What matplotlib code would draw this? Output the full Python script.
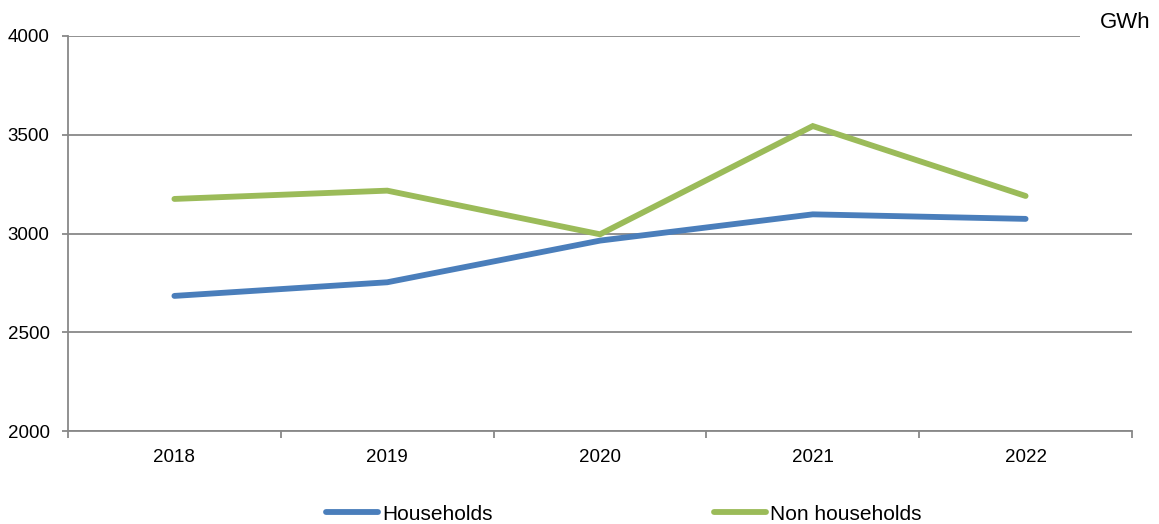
import numpy as np
import matplotlib.pyplot as plt
from matplotlib.ticker import FixedLocator

# electricity consumption, GWh
years = ["2018", "2019", "2020", "2021", "2022"]
households = [2684, 2753, 2964, 3097, 3074]
non_households = [3175, 3217, 2996, 3544, 3190]

blue = "#4A7EBB"
green = "#9BBB59"
grey = "#888888"
font = ["Liberation Sans", "DejaVu Sans"]

fig = plt.figure(figsize=(11.59, 5.24), dpi=100)
ax = fig.add_axes([68/1159, 1-431/524, (1132-68)/1159, (431-36)/524])

x = np.arange(len(years))
ax.plot(x, households, color=blue, lw=4.2, solid_capstyle="round", solid_joinstyle="miter", label="Households", zorder=3)
ax.plot(x, non_households, color=green, lw=4.2, solid_capstyle="round", solid_joinstyle="miter", label="Non households", zorder=3)

ax.set_xlim(-0.5, len(years) - 0.5)
ax.set_ylim(2000, 4000)
ax.set_yticks([2000, 2500, 3000, 3500, 4000])
ax.yaxis.grid(True, color=grey, lw=1.3)
ax.set_axisbelow(True)

ax.set_xticks(x)
ax.set_xticklabels(years)
ax.xaxis.set_minor_locator(FixedLocator(np.arange(-0.5, len(years), 1.0)))
ax.tick_params(axis="x", which="major", length=0, pad=13)
ax.tick_params(axis="x", which="minor", length=5, width=1.3, color=grey, direction="out")
ax.tick_params(axis="y", length=4.3, width=1.3, color=grey, pad=9)

for lab in ax.get_xticklabels() + ax.get_yticklabels():
    lab.set_family(font)
    lab.set_fontsize(13.5)

for side in ["top", "right"]:
    ax.spines[side].set_visible(False)
for side in ["left", "bottom"]:
    ax.spines[side].set_color(grey)
    ax.spines[side].set_linewidth(1.3)

fig.text(1100/1159, 1-22/524, "GWh", ha="left", va="center", fontsize=16,
         family=font, bbox=dict(facecolor="white", edgecolor="none", pad=14))

fig.legend(loc="center", bbox_to_anchor=(624/1159, 1-514/524), ncol=2, frameon=False,
           prop={"family": font, "size": 15}, handlelength=2.5, handletextpad=0.2,
           columnspacing=10.6)

fig.savefig("out.png", dpi=100)
